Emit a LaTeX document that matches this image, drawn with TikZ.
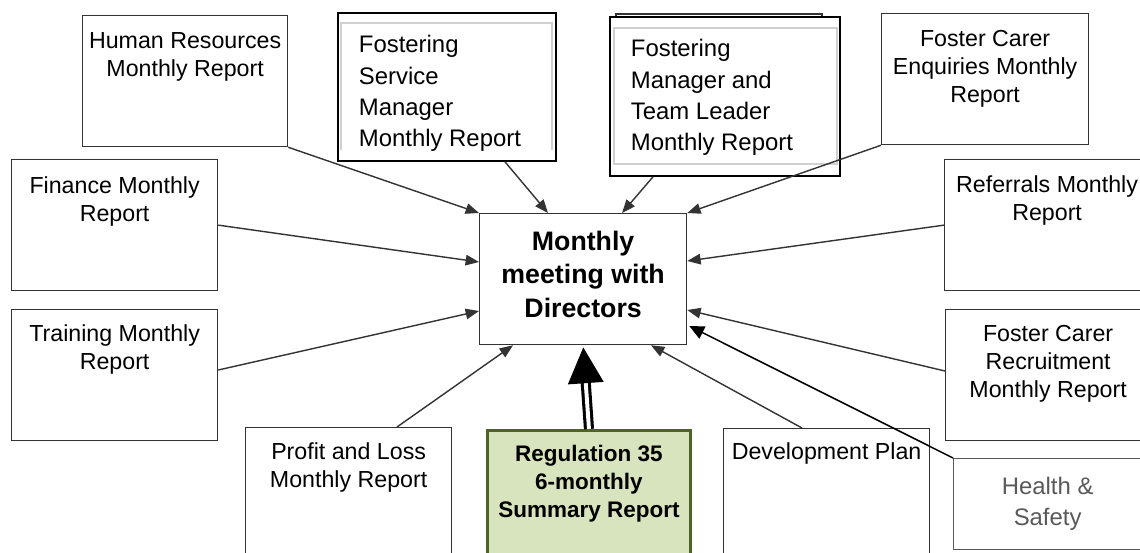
\documentclass[tikz,border=0pt]{standalone}
\usepackage{fontspec}
\setmainfont{Liberation Sans}
\usetikzlibrary{positioning,calc,arrows.meta}
\newlength{\pxl}\setlength{\pxl}{0.025cm}
\definecolor{boxline}{HTML}{333333}
\definecolor{feedline}{HTML}{333333}
\definecolor{innergray}{HTML}{D0D0D0}
\definecolor{regfill}{HTML}{D7E4BD}
\definecolor{regline}{HTML}{4F6228}
\definecolor{hsgray}{HTML}{595959}
% width, height, first baseline, lines
\newcommand{\reptext}[4]{\parbox[t][#2\pxl][t]{#1\pxl}{\centering\rule{0pt}{#3\pxl}#4}}
\newcommand{\leftrep}[4]{\parbox[t][#2\pxl][t]{#1\pxl}{\raggedright\rule{0pt}{#3\pxl}#4}}
\tikzset{
	report/.style={draw=boxline,line width=0.9pt,fill=white,inner sep=0pt,anchor=north west,font=\fontsize{16.5}{19.8}\selectfont},
	fosterbox/.style={draw=black,line width=1.3pt,fill=white,inner xsep=21\pxl,inner ysep=0pt,anchor=north west,font=\fontsize{17}{22.3}\selectfont},
	innerbox/.style={draw=innergray,line width=1.3pt},
	feed/.style={draw=feedline,line width=1pt,-{Triangle[length=9.5pt,width=7.5pt]}},
	hsfeed/.style={draw=black,line width=1.1pt,-{Triangle[length=10.5pt,width=9.5pt]}},
	regfeed/.style={draw=black,line width=2.2pt,double=white,double distance=2.8pt,-{Triangle[length=25.5pt,width=25pt]},shorten >=1.5pt}
}
\begin{document}
\begin{tikzpicture}[x=0.025cm,y=-0.025cm]
	\useasboundingbox (0,0) rectangle (1140,553);
	\draw[boxline,line width=1.1pt] (616,14) rectangle (822,60);

	\node[report] (hr) at (82,15) {\reptext{205}{131}{33}{Human Resources\\Monthly Report}};
	\node[report] (fin) at (11,159) {\reptext{206}{131}{34}{Finance Monthly\\Report}};
	\node[report] (train) at (11,309) {\reptext{206}{131}{32}{Training Monthly\\Report}};
	\node[fosterbox] (fsm) at (337,12) {\leftrep{176}{148}{40}{Fostering\\Service\\Manager\\Monthly Report}};
	\node[fosterbox] (fmtl) at (609,16) {\leftrep{188}{159}{40}{Fostering\\Manager and\\Team Leader\\Monthly Report}};
	\node[report] (enq) at (881,13) {\reptext{207}{131}{33}{Foster Carer\\Enquiries Monthly\\Report}};
	\node[report] (ref) at (944,159) {\reptext{205}{131}{33}{Referrals Monthly\\Report}};
	\node[report] (recr) at (945,309) {\reptext{205}{131}{32}{Foster Carer\\Recruitment\\Monthly Report}};
	\node[report] (pl) at (245,427) {\reptext{206}{140}{32}{Profit and Loss\\Monthly Report}};
	\node[report] (dev) at (723,428) {\reptext{206}{140}{31}{Development Plan}};
	\node[report,draw=hsgray,font=\fontsize{17}{22}\selectfont\color{hsgray}] (hs) at (953,458) {\reptext{188}{91}{36}{Health \&\\Safety}};
	\node[report,fill=regfill,draw=regline,line width=2.1pt,font=\fontsize{16}{19.8}\selectfont\bfseries] (reg) at (486,429) {\reptext{203}{140}{31}{Regulation 35\\6-monthly\\Summary Report}};
	\node[report,font=\fontsize{19}{23.7}\selectfont\bfseries] (central) at (479,213) {\reptext{207}{131}{37}{Monthly\\meeting with\\Directors}};

	\draw[innerbox] ($(fsm.south west)+(4,-12)$) |- ($(fsm.north east)+(-5,11)$) -- ($(fsm.south east)+(-5,-12)$);
	\draw[innerbox] ($(fmtl.north west)+(5,12)$) rectangle ($(fmtl.south east)+(-4,-13)$);

	\draw[feed] (hr.south east) -- (central.north west);
	\draw[feed] ($(fsm.south west)+(168,0)$) -- ($(central.north west)+(69,0)$);
	\draw[feed] ($(fmtl.south west)+(44,0)$) -- ($(central.north west)+(143,0)$);
	\draw[feed] (enq.south west) -- (central.north east);
	\draw[feed] (fin.east) -- ($(central.north west)+(0,49)$);
	\draw[feed] (ref.west) -- ($(central.north east)+(0,48)$);
	\draw[feed] ($(train.north east)+(0,61)$) -- ($(central.north west)+(0,98)$);
	\draw[feed] ($(recr.north west)+(0,62)$) -- ($(central.north east)+(0,97)$);
	\draw[feed] ($(pl.north west)+(152,0)$) -- ($(central.south west)+(34,0)$);
	\draw[feed] ($(dev.north west)+(79,0)$) -- ($(central.south west)+(172,0)$);
	\draw[hsfeed] (hs.north west) -- ($(central.north east)+(2,113)$);
	\draw[regfeed] (reg.north) -- (central.south);
\end{tikzpicture}
\end{document}
